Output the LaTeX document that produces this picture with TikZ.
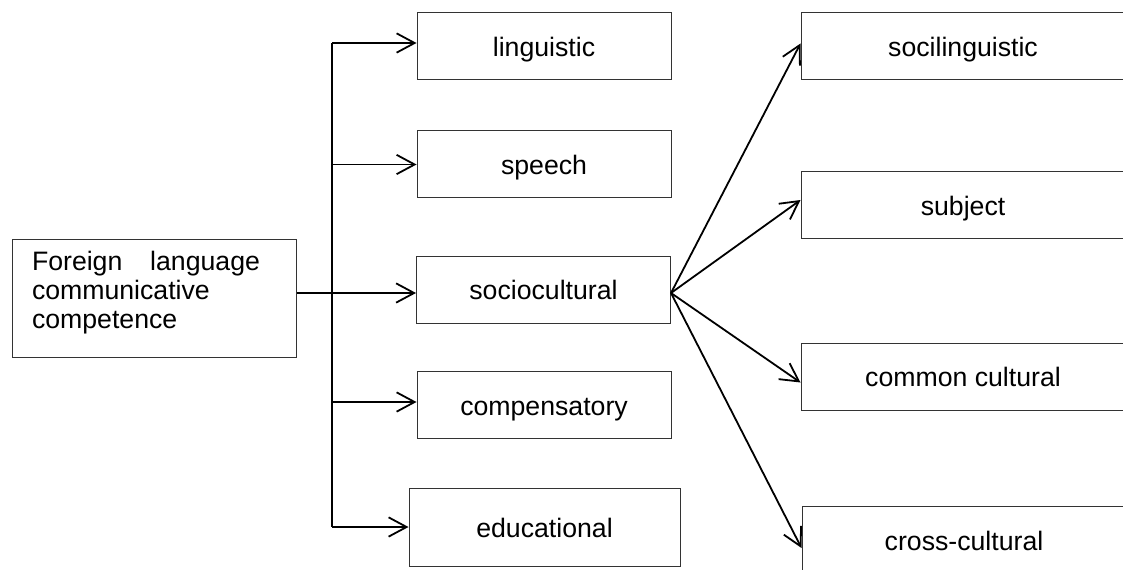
\documentclass[tikz,border=0pt]{standalone}
\usepackage{fontspec}
\setmainfont{Liberation Sans}
\usetikzlibrary{arrows.meta, positioning, calc}
\tikzset{
    item/.style={rectangle, draw=black!80, line width=0.75pt, fill=white, align=center, minimum width=190.5pt, minimum height=50.25pt, inner sep=0pt, text height=15.5pt, text depth=0pt, font=\fontsize{20}{24}\selectfont},
    wide/.style={item, minimum width=243pt},
    root/.style={rectangle, draw=black!80, line width=0.75pt, fill=white, minimum width=213pt, minimum height=89pt, inner sep=0pt, font=\fontsize{20}{22}\selectfont},
    arrow/.style={-{Straight Barb[length=13.5pt, width=14.5pt]}, line width=1.35pt},
    link/.style={line width=1.35pt}
}

\begin{document}
\begin{tikzpicture}[x=0.75pt, y=-0.75pt]
    \useasboundingbox (0,0) rectangle (1123,570);
    \clip (0,0) rectangle (1123,570);

    % Root
    \node[root] (fl) at (154,298.5) {\raisebox{4.5pt}[\height][\depth]{\parbox[c]{171pt}{Foreign\hfill language\\communicative\\competence}}\hspace*{12pt}};

    % Components
    \node[item] (ling) at (544,46.5) {linguistic};
    \node[item] (speech) at (544,164.5) {speech};
    \node[item] (socio) at (543.5,289.5) {sociocultural};
    \node[item] (comp) at (544,405) {compensatory};
    \node[item, minimum width=203.25pt, minimum height=58.5pt] (edu) at (544.5,527) {educational};

    % Sociocultural parts
    \node[wide] (socling) at (963,46.5) {socilinguistic};
    \node[wide] (subj) at (963,205) {subject};
    \node[wide] (common) at (963,376.5) {common cultural};
    \node[wide, minimum height=51pt] (cross) at (964,540) {cross-cultural};

    % Spine
    \coordinate (spine) at (332,0);
    \coordinate (ling in) at ($(ling.west)+(0,-3.5)$);
    \coordinate (socio in) at ($(socio.west)+(0,3.5)$);
    \coordinate (comp in) at ($(comp.west)+(0,-3)$);
    \draw[link] (spine |- ling in) -- (spine |- edu.west);
    \draw[arrow] (spine |- ling in) -- (ling in);
    \draw[arrow] (spine |- speech.west) -- (speech.west);
    \draw[arrow] (spine |- comp in) -- (comp in);
    \draw[arrow] (spine |- edu.west) -- (edu.west);
    \draw[arrow] (fl.east |- socio in) -- (socio in);

    % Fan
    \coordinate (socio out) at ($(socio.east)+(0,3.5)$);
    \draw[arrow] (socio out) -- ($(socling.west)+(0,-3)$);
    \draw[arrow] (socio out) -- ($(subj.west)+(0,-5)$);
    \draw[arrow] (socio out) -- ($(common.west)+(0,6)$);
    \draw[arrow] (socio out) -- ($(cross.west)+(0,8)$);
\end{tikzpicture}
\end{document}
